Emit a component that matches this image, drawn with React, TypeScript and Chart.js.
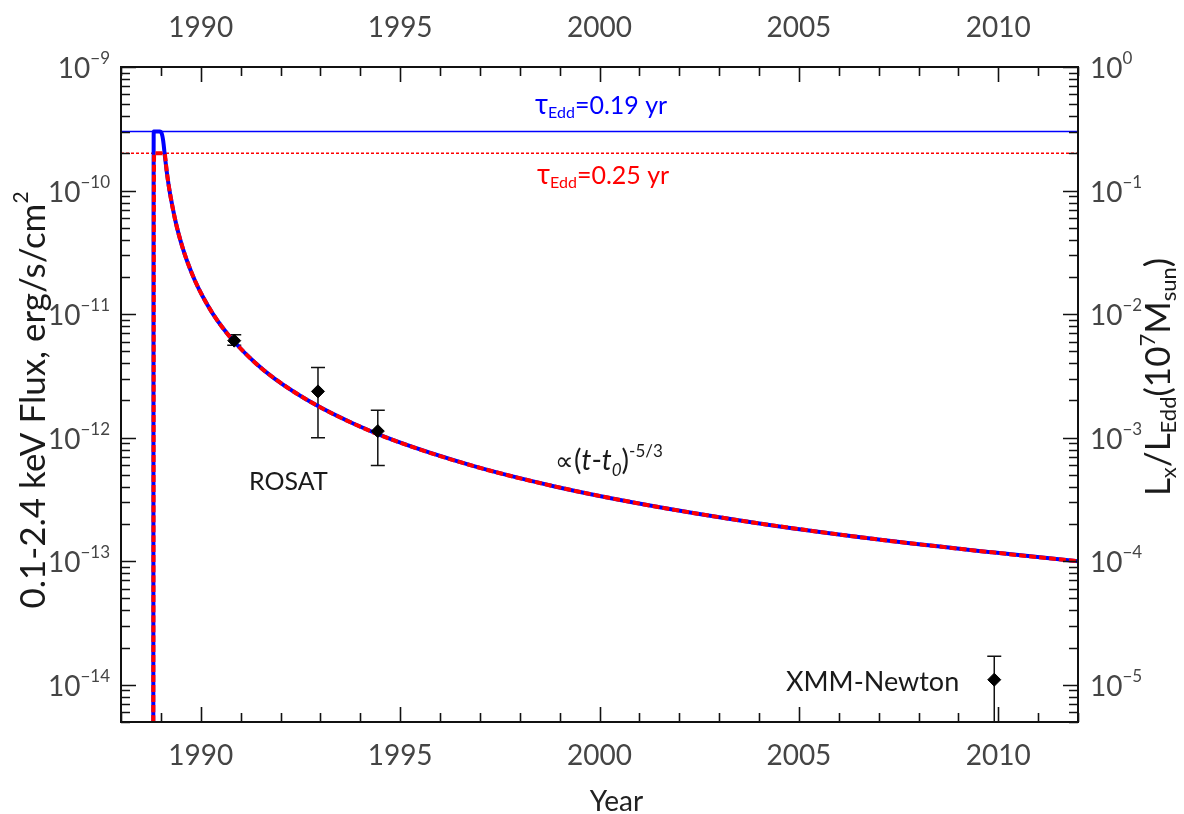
import React, { useEffect, useRef } from 'react';
import { Chart, registerables } from 'chart.js';

Chart.register(...registerables);

const FONT = 'Lato, "Open Sans", sans-serif';

// ---- axis ranges and ticks ----
const yearMin = 1988;
const yearMax = 2012;
const fluxMin = 5e-15;
const fluxMax = 1e-9;
const ratioMin = 5e-6;
const ratioMax = 1;
const yearMajorTicks = [1990, 1995, 2000, 2005, 2010];
const yearMinorTicks = [1988, 1989, 1991, 1992, 1993, 1994, 1996, 1997, 1998, 1999, 2001, 2002, 2003, 2004, 2006, 2007, 2008, 2009, 2011, 2012];
const fluxExponents = [-14, -13, -12, -11, -10, -9];
const ratioExponents = [-5, -4, -3, -2, -1, 0];
const minorDecadeExponents = [-15, -14, -13, -12, -11, -10];
const minorMultipliers = [2, 3, 4, 5, 6, 7, 8, 9];

// ---- model light curves ----
const bluePeakYears = [1988.81, 1988.82, 1988.97, 1989.02, 1989.06, 1989.1];
const bluePeakFlux = [5e-15, 3e-10, 3e-10, 2.9e-10, 2.5e-10, 1.9e-10];
const redPeakYears = [1988.81, 1988.83, 1989.09];
const redPeakFlux = [5e-15, 2e-10, 2e-10];
const decayYears = [1989.15, 1989.2, 1989.25, 1989.35, 1989.45, 1989.55, 1989.65, 1989.85, 1990.05, 1990.3, 1990.55, 1990.85, 1991.35, 1991.85, 1992.85, 1993.85, 1994.85, 1996.85, 1998.85, 2000.85, 2003.85, 2006.85, 2009.85, 2012];
const decayFlux = [1.4e-10, 1.08e-10, 8.67e-11, 5.97e-11, 4.4e-11, 3.41e-11, 2.73e-11, 1.88e-11, 1.39e-11, 1.01e-11, 7.76e-12, 5.92e-12, 4.08e-12, 3.01e-12, 1.87e-12, 1.29e-12, 9.49e-13, 5.88e-13, 4.05e-13, 2.99e-13, 2.06e-13, 1.52e-13, 1.18e-13, 1.0e-13];

// Eddington limit levels
const eddBlue = 3e-10;
const eddRed = 2e-10;

// ---- observations ----
const obsYears = [1990.84, 1992.94, 1994.44, 2009.9];
const obsFlux = [6.1e-12, 2.37e-12, 1.13e-12, 1.1e-14];
const obsLow = [5.6e-12, 1.0e-12, 5.95e-13, 1e-16];
const obsHigh = [6.8e-12, 3.7e-12, 1.67e-12, 1.7e-14];

const BLUE = 'rgb(0,0,255)';
const RED = 'rgb(255,0,0)';

type Seg = { t: string; size: number; dy?: number; italic?: boolean };

function fontOf(s: Seg) {
  return `${s.italic ? 'italic ' : ''}${s.size}px ${FONT}`;
}

function drawRich(ctx: CanvasRenderingContext2D, segs: Seg[], x: number, y: number, align: 'left' | 'right' | 'center', color: string) {
  let total = 0;
  const widths = segs.map((s) => {
    ctx.font = fontOf(s);
    const w = ctx.measureText(s.t).width;
    total += w;
    return w;
  });
  let cx = align === 'left' ? x : align === 'right' ? x - total : x - total / 2;
  ctx.fillStyle = color;
  ctx.textAlign = 'left';
  ctx.textBaseline = 'alphabetic';
  segs.forEach((s, i) => {
    ctx.font = fontOf(s);
    ctx.fillText(s.t, cx, y + (s.dy || 0));
    cx += widths[i];
  });
}

function powLabel(exp: number): Seg[] {
  return [
    { t: '10', size: 28 },
    { t: exp < 0 ? '\u2212' + Math.abs(exp) : String(exp), size: 17, dy: -14 },
  ];
}

const decorPlugin = {
  id: 'decor',
  beforeDatasetsDraw(chart: any) {
    const ctx: CanvasRenderingContext2D = chart.ctx;
    const xs = chart.scales.x;
    const ys = chart.scales.y;
    const a = chart.chartArea;
    ctx.save();
    ctx.beginPath();
    ctx.rect(a.left, a.top, a.right - a.left, a.bottom - a.top);
    ctx.clip();
    ctx.strokeStyle = '#111';
    ctx.lineWidth = 1.5;
    obsYears.forEach((yr, i) => {
      const x = xs.getPixelForValue(yr);
      const yl = ys.getPixelForValue(obsLow[i]);
      const yh = ys.getPixelForValue(obsHigh[i]);
      ctx.beginPath();
      ctx.moveTo(x, yl);
      ctx.lineTo(x, yh);
      ctx.moveTo(x - 7, yh);
      ctx.lineTo(x + 7, yh);
      ctx.moveTo(x - 7, yl);
      ctx.lineTo(x + 7, yl);
      ctx.stroke();
    });
    ctx.restore();
  },
  afterDatasetsDraw(chart: any) {
    const ctx: CanvasRenderingContext2D = chart.ctx;
    const xs = chart.scales.x;
    const ys = chart.scales.y;
    const y2 = chart.scales.y2;
    const a = chart.chartArea;
    ctx.save();
    ctx.strokeStyle = '#111';
    ctx.lineWidth = 2;
    ctx.strokeRect(a.left, a.top, a.right - a.left, a.bottom - a.top);
    ctx.lineWidth = 1.6;
    ctx.beginPath();
    const xTick = (v: number, len: number) => {
      const x = Math.round(xs.getPixelForValue(v)) + 0.5;
      ctx.moveTo(x, a.bottom);
      ctx.lineTo(x, a.bottom - len);
      ctx.moveTo(x, a.top);
      ctx.lineTo(x, a.top + len);
    };
    yearMajorTicks.forEach((v) => xTick(v, 15));
    yearMinorTicks.forEach((v) => xTick(v, 9));
    const yTickL = (v: number, len: number) => {
      if (v < fluxMin * 0.999 || v > fluxMax * 1.001) return;
      const y = Math.round(ys.getPixelForValue(v)) + 0.5;
      ctx.moveTo(a.left, y);
      ctx.lineTo(a.left + len, y);
    };
    const yTickR = (v: number, len: number) => {
      if (v < ratioMin * 0.999 || v > ratioMax * 1.001) return;
      const y = Math.round(y2.getPixelForValue(v)) + 0.5;
      ctx.moveTo(a.right, y);
      ctx.lineTo(a.right - len, y);
    };
    fluxExponents.forEach((e) => yTickL(Math.pow(10, e), 15));
    ratioExponents.forEach((e) => yTickR(Math.pow(10, e), 15));
    minorDecadeExponents.forEach((e) => {
      minorMultipliers.forEach((m) => {
        yTickL(m * Math.pow(10, e), 9);
        yTickR(m * Math.pow(10, e + 9), 9);
      });
    });
    ctx.stroke();
    ctx.restore();
  },
  afterDraw(chart: any) {
    const ctx: CanvasRenderingContext2D = chart.ctx;
    const xs = chart.scales.x;
    const ys = chart.scales.y;
    const y2 = chart.scales.y2;
    const a = chart.chartArea;
    ctx.save();
    const grey = '#454545';
    // year labels top and bottom
    yearMajorTicks.forEach((v) => {
      const x = xs.getPixelForValue(v);
      drawRich(ctx, [{ t: String(v), size: 28 }], x, 37, 'center', grey);
      drawRich(ctx, [{ t: String(v), size: 28 }], x, a.bottom + 43, 'center', grey);
    });
    // left labels
    fluxExponents.forEach((e) => {
      const y = ys.getPixelForValue(Math.pow(10, e));
      drawRich(ctx, powLabel(e), a.left - 11, y + 11, 'right', grey);
    });
    // right labels
    ratioExponents.forEach((e) => {
      const y = y2.getPixelForValue(Math.pow(10, e));
      drawRich(ctx, powLabel(e), a.right + 12, y + 11, 'left', grey);
    });
    // x title
    drawRich(ctx, [{ t: 'Year', size: 28 }], (a.left + a.right) / 2 + 17, 811, 'center', '#222');
    // left title
    ctx.save();
    ctx.translate(45, 400);
    ctx.rotate(-Math.PI / 2);
    drawRich(ctx, [
      { t: '0.1-2.4 keV Flux, erg/s/cm', size: 35 },
      { t: '2', size: 21, dy: -17 },
    ], 0, 0, 'center', '#1a1a1a');
    ctx.restore();
    // right title
    ctx.save();
    ctx.translate(1170, 377);
    ctx.rotate(-Math.PI / 2);
    drawRich(ctx, [
      { t: 'L', size: 35 },
      { t: 'x', size: 22, dy: 6 },
      { t: '/L', size: 35 },
      { t: 'Edd', size: 22, dy: 6 },
      { t: '(10', size: 35 },
      { t: '7', size: 22, dy: -15 },
      { t: 'M', size: 35 },
      { t: 'sun', size: 22, dy: 6 },
      { t: ')', size: 35 },
    ], 0, 0, 'center', '#1a1a1a');
    ctx.restore();
    // annotations
    drawRich(ctx, [
      { t: '\u03C4', size: 28 },
      { t: 'Edd', size: 16, dy: 4 },
      { t: '=0.19 yr', size: 25 },
    ], 535, 114, 'left', BLUE);
    drawRich(ctx, [
      { t: '\u03C4', size: 28 },
      { t: 'Edd', size: 16, dy: 4 },
      { t: '=0.25 yr', size: 25 },
    ], 537, 184, 'left', RED);
    drawRich(ctx, [{ t: 'ROSAT', size: 25 }], 249, 490, 'left', '#1a1a1a');
    drawRich(ctx, [{ t: 'XMM-Newton', size: 27 }], 786, 691, 'left', '#1a1a1a');
    drawRich(ctx, [
      { t: '\u221D', size: 26 },
      { t: '(', size: 28 },
      { t: 't', size: 28, italic: true },
      { t: '-', size: 28 },
      { t: 't', size: 28, italic: true },
      { t: '0', size: 17, dy: 6, italic: true },
      { t: ')', size: 28 },
      { t: '-5/3', size: 17, dy: -13 },
    ], 555, 470, 'left', '#1a1a1a');
    ctx.restore();
  },
};

function pts(xsArr: number[], ysArr: number[]) {
  return xsArr.map((x, i) => ({ x, y: ysArr[i] }));
}

export default function App() {
  const ref = useRef<HTMLCanvasElement | null>(null);
  useEffect(() => {
    document.body.style.margin = '0';
    const canvas = ref.current;
    if (!canvas) return;
    const blueCurve = pts(bluePeakYears.concat(decayYears), bluePeakFlux.concat(decayFlux));
    const redCurve = pts(redPeakYears.concat(decayYears), redPeakFlux.concat(decayFlux));
    const chart = new Chart(canvas, {
      type: 'line',
      data: {
        datasets: [
          {
            label: 'observations',
            data: pts(obsYears, obsFlux),
            showLine: false,
            pointStyle: 'rectRot',
            pointRadius: 6.5,
            pointBackgroundColor: '#000',
            pointBorderColor: '#000',
            pointBorderWidth: 1,
            order: 0,
          },
          {
            label: 'tau 0.25',
            data: redCurve,
            borderColor: RED,
            borderWidth: 4,
            borderDash: [7, 3],
            pointRadius: 0,
            cubicInterpolationMode: 'monotone',
            order: 1,
          },
          {
            label: 'tau 0.19',
            data: blueCurve,
            borderColor: BLUE,
            borderWidth: 4,
            pointRadius: 0,
            cubicInterpolationMode: 'monotone',
            order: 2,
          },
          {
            label: 'Edd 0.19',
            data: pts([yearMin, yearMax], [eddBlue, eddBlue]),
            borderColor: BLUE,
            borderWidth: 1.5,
            pointRadius: 0,
            order: 3,
          },
          {
            label: 'Edd 0.25',
            data: pts([yearMin, yearMax], [eddRed, eddRed]),
            borderColor: RED,
            borderWidth: 1.5,
            borderDash: [3, 2],
            pointRadius: 0,
            order: 4,
          },
        ],
      },
      options: {
        responsive: false,
        animation: false,
        devicePixelRatio: 1,
        layout: { padding: { left: 121, right: 106, top: 67, bottom: 92 } },
        plugins: { legend: { display: false }, tooltip: { enabled: false } },
        scales: {
          x: { type: 'linear', min: yearMin, max: yearMax, display: false },
          y: { type: 'logarithmic', min: fluxMin, max: fluxMax, display: false },
          y2: { type: 'logarithmic', position: 'right', min: ratioMin, max: ratioMax, display: false },
        },
      },
      plugins: [decorPlugin],
    } as any);
    return () => chart.destroy();
  }, []);
  return (
    <div style={{ width: 1184, height: 814 }}>
      <canvas ref={ref} width={1184} height={814} style={{ display: 'block' }} />
    </div>
  );
}
